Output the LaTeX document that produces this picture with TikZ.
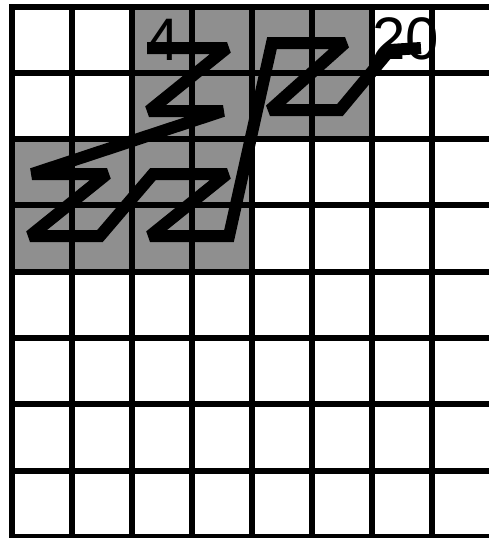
\documentclass[tikz,border=0pt]{standalone}
\usepackage{fontspec}
\setmainfont{Liberation Sans}
\definecolor{cellgray}{RGB}{143,143,143}
\begin{document}
\begin{tikzpicture}[x=1pt,y=-1pt,
  gridline/.style={line width=6pt,black,line cap=rect},
  zpath/.style={line width=12pt,black,line join=miter,miter limit=2},
  numlabel/.style={inner sep=0pt,font=\fontsize{60}{62}\selectfont}]
\useasboundingbox (0,0) rectangle (489,538);
\fill[white] (0,0) rectangle (489,538);
% shaded cells
\fill[cellgray] (131.7,6.5) rectangle (371.7,139.1);
\fill[cellgray] (11.7,139.1) rectangle (251.7,271.7);
% grid
\foreach \i in {0,...,8} {
  \draw[gridline] (11.7+60*\i,6.5) -- (11.7+60*\i,536.9);
  \draw[gridline] (11.7,6.5+66.3*\i) -- (491.7,6.5+66.3*\i);
}
% labels
\node[numlabel] (l4) at (163,40) {4};
\node[numlabel] (l20) at (406,39) {20};
% path points
\coordinate (p1) at (147,48);
\coordinate (p2) at (227,48);
\coordinate (p3) at (149,111);
\coordinate (p4) at (223,111);
\coordinate (p5) at (32,174);
\coordinate (p6) at (107,174);
\coordinate (p7) at (30,236);
\coordinate (p8) at (100,236);
\coordinate (p9) at (153,174);
\coordinate (p10) at (227,174);
\coordinate (p11) at (150,236);
\coordinate (p12) at (229,236);
\coordinate (p13) at (272,43);
\coordinate (p14) at (345,43);
\coordinate (p15) at (270,110);
\coordinate (p16) at (340,110);
\coordinate (p17) at (390,50);
\coordinate (p18) at (421,48);
\draw[zpath] (p1) -- (p2) -- (p3) -- (p4) -- (p5) -- (p6) -- (p7) -- (p8)
  -- (p9) -- (p10) -- (p11) -- (p12) -- (p13) -- (p14) -- (p15) -- (p16)
  -- (p17) -- (p18);
\end{tikzpicture}
\end{document}
